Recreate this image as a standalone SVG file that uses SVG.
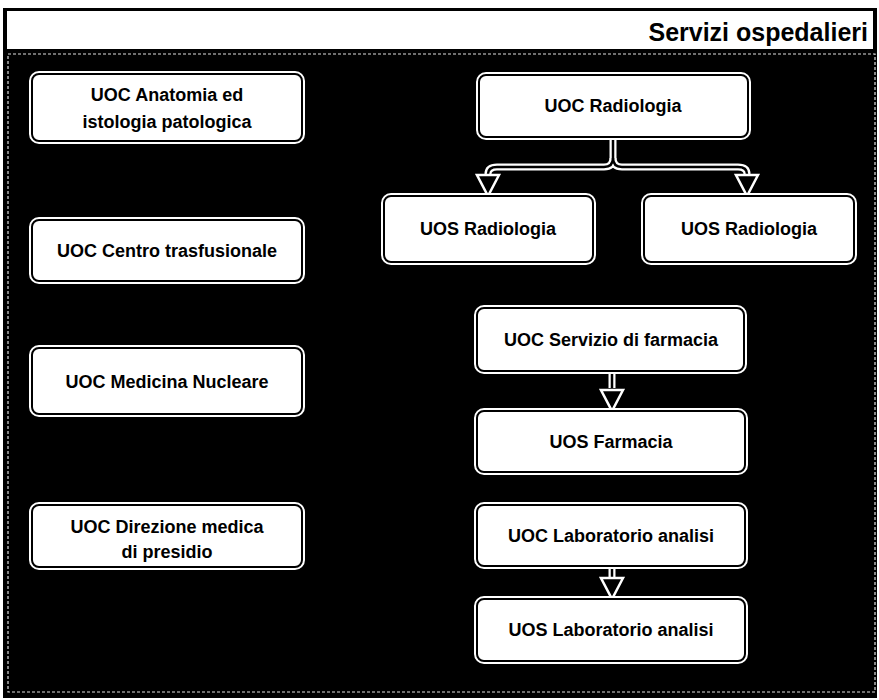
<svg xmlns="http://www.w3.org/2000/svg" width="879" height="700" viewBox="0 0 879 700">
<style>
.outer{fill:none;stroke:#fff;stroke-width:6}
.box{fill:#fff;stroke:#000;stroke-width:2}
.t{font-family:"Liberation Sans",Arial,sans-serif;font-weight:bold;font-size:18px;fill:#000;text-anchor:middle}
.cw{fill:none;stroke:#fff;stroke-width:7}
.cb{fill:none;stroke:#000;stroke-width:2.5}
</style>
<defs>
<marker id="arr" markerUnits="userSpaceOnUse" viewBox="0 0 26 26" markerWidth="26" markerHeight="26" refX="23" refY="13" orient="auto">
<path d="M2,2 L23,13 L2,24 Z" fill="#000" stroke="#fff" stroke-width="2.5" stroke-linejoin="miter"/>
</marker>
</defs>
<rect x="0" y="0" width="879" height="700" fill="#fff"/>
<rect x="3" y="8" width="874" height="690" fill="#000"/>
<rect x="7" y="11" width="866" height="38" fill="#fff"/>
<rect x="8" y="54" width="867" height="638" fill="none" stroke="#ddd" stroke-width="1.2" stroke-dasharray="3 2"/>
<text x="868" y="41" font-family="Liberation Sans,Arial,sans-serif" font-weight="bold" font-size="25" text-anchor="end" fill="#000">Servizi ospedalieri</text>

<g id="connectors">
<path class="cw" d="M613,138 V158 Q613,167 604,167 H497 Q488,167 488,174 V176"/>
<path class="cw" d="M613,158 Q613,167 622,167 H738 Q747,167 747,174 V176"/>
<path class="cb" d="M613,138 V158 Q613,167 604,167 H497 Q488,167 488,174 V196" marker-end="url(#arr)"/>
<path class="cb" d="M613,158 Q613,167 622,167 H738 Q747,167 747,174 V196" marker-end="url(#arr)"/>
<path class="cw" d="M612,372 V388"/>
<path class="cb" d="M612,372 V411" marker-end="url(#arr)"/>
<path class="cw" d="M612,567 V577"/>
<path class="cb" d="M612,567 V599" marker-end="url(#arr)"/>
</g>

<g id="n-anatomia">
<rect class="outer" x="32" y="74" width="270" height="67" rx="7"/>
<rect class="box" x="32" y="74" width="270" height="67" rx="7"/>
<text class="t" x="167" y="101">UOC Anatomia ed</text>
<text class="t" x="167" y="128">istologia patologica</text>
</g>
<g id="n-centro">
<rect class="outer" x="32" y="220" width="270" height="61" rx="7"/>
<rect class="box" x="32" y="220" width="270" height="61" rx="7"/>
<text class="t" x="167" y="257">UOC Centro trasfusionale</text>
</g>
<g id="n-medicina">
<rect class="outer" x="32" y="348" width="270" height="66" rx="7"/>
<rect class="box" x="32" y="348" width="270" height="66" rx="7"/>
<text class="t" x="167" y="388">UOC Medicina Nucleare</text>
</g>
<g id="n-direzione">
<rect class="outer" x="32" y="505" width="270" height="62" rx="7"/>
<rect class="box" x="32" y="505" width="270" height="62" rx="7"/>
<text class="t" x="167" y="533">UOC Direzione medica</text>
<text class="t" x="167" y="558">di presidio</text>
</g>
<g id="n-radiologia">
<rect class="outer" x="479" y="75" width="269" height="62" rx="7"/>
<rect class="box" x="479" y="75" width="269" height="62" rx="7"/>
<text class="t" x="613" y="112">UOC Radiologia</text>
</g>
<g id="n-uos-radiologia-1">
<rect class="outer" x="384" y="196" width="209" height="66" rx="7"/>
<rect class="box" x="384" y="196" width="209" height="66" rx="7"/>
<text class="t" x="488" y="235">UOS Radiologia</text>
</g>
<g id="n-uos-radiologia-2">
<rect class="outer" x="644" y="196" width="210" height="66" rx="7"/>
<rect class="box" x="644" y="196" width="210" height="66" rx="7"/>
<text class="t" x="749" y="235">UOS Radiologia</text>
</g>
<g id="n-farmacia">
<rect class="outer" x="477" y="308" width="267" height="63" rx="7"/>
<rect class="box" x="477" y="308" width="267" height="63" rx="7"/>
<text class="t" x="611" y="346">UOC Servizio di farmacia</text>
</g>
<g id="n-uos-farmacia">
<rect class="outer" x="477" y="411" width="268" height="61" rx="7"/>
<rect class="box" x="477" y="411" width="268" height="61" rx="7"/>
<text class="t" x="611" y="448">UOS Farmacia</text>
</g>
<g id="n-laboratorio">
<rect class="outer" x="477" y="505" width="268" height="61" rx="7"/>
<rect class="box" x="477" y="505" width="268" height="61" rx="7"/>
<text class="t" x="611" y="542">UOC Laboratorio analisi</text>
</g>
<g id="n-uos-laboratorio">
<rect class="outer" x="477" y="599" width="268" height="62" rx="7"/>
<rect class="box" x="477" y="599" width="268" height="62" rx="7"/>
<text class="t" x="611" y="636">UOS Laboratorio analisi</text>
</g>
</svg>
